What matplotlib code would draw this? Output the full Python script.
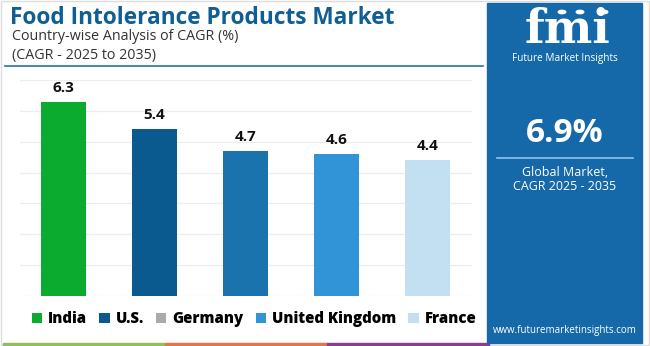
import matplotlib
matplotlib.use("Agg")
import matplotlib.pyplot as plt
from matplotlib.patches import Rectangle, Patch, Circle

# data
countries = ["India", "U.S.", "Germany", "United Kingdom", "France"]
cagr = [6.3, 5.4, 4.7, 4.6, 4.4]
bar_colors = ["#0aab2e", "#0b5a8f", "#1b73ad", "#3194d6", "#c3e0f2"]
legend_colors = ["#0aab2e", "#0b5a8f", "#aaaaaa", "#3194d6", "#c3e0f2"]
global_cagr = "6.9%"

W, H = 650, 346
fig = plt.figure(figsize=(W / 100, H / 100), dpi=100)
plt.rcParams['font.family'] = ['Open Sans', 'DejaVu Sans']

def fx(px):
    return px / W

def fy(py):
    # pixel from top -> figure fraction
    return 1 - py / H

# outer light border
fig.patches.append(Rectangle((0.001, 0.002), 0.997, 0.995, transform=fig.transFigure,
                             fill=False, edgecolor="#dddddd", linewidth=1))

# title block
fig.text(fx(10), fy(18), "Food Intolerance Products Market", fontsize=16.3,
         fontweight="bold", color="#0f5e96", va="center", ha="left")
fig.text(fx(12), fy(37), "Country-wise Analysis of CAGR (%)", fontsize=10.3,
         color="#333333", va="center", ha="left")
fig.text(fx(12), fy(56), "(CAGR - 2025 to 2035)", fontsize=10.3,
         color="#333333", va="center", ha="left")
fig.add_artist(plt.Line2D([fx(5), fx(483)], [fy(66), fy(66)], transform=fig.transFigure,
                          color="#2a6fa3", linewidth=1.2))

# bar chart
ax = fig.add_axes([fx(20), fy(296), fx(452), 216 / H])
x = list(range(len(countries)))
ax.bar(x, cagr, width=0.495, color=bar_colors, zorder=3)
for xi, v in zip(x, cagr):
    ax.annotate(f"{v}", (xi, v), xytext=(0, 5), textcoords="offset points",
                ha="center", va="bottom", fontsize=11, fontweight="bold",
                color="#111111")
ax.set_xlim(-0.478, 4.489)
ax.set_ylim(0, 7)
ax.set_yticks(range(0, 8))
ax.grid(axis="y", color="#ececec", linewidth=0.9, zorder=0)
ax.set_xticks([])
ax.tick_params(left=False, labelleft=False)
for s in ax.spines.values():
    s.set_visible(False)

# legend
handles = [Patch(facecolor=c, edgecolor="none") for c in legend_colors]
fig.legend(handles, countries, loc="center", bbox_to_anchor=(fx(254), fy(319)),
           ncol=5, frameon=False, handlelength=0.7, handleheight=0.7,
           handletextpad=0.4, columnspacing=0.8,
           prop={"weight": "heavy", "size": 10.8})

# bottom stripes
stripe_cols = ["#8dc15a", "#e8734a", "#8e3c8e"]
for i, c in enumerate(stripe_cols):
    fig.patches.append(Rectangle((fx(3 + i * 162), fy(346)), fx(162), 3 / H,
                                 transform=fig.transFigure, color=c))

# right panel
panel = "#1669a8"
fig.patches.append(Rectangle((fx(487), fy(343)), fx(155), 340 / H,
                             transform=fig.transFigure, color=panel))
fig.text(fx(568), fy(30), "fmi", fontsize=33, fontweight="bold", family="DejaVu Serif",
         color="white", ha="center", va="center")
# stripes across the logo letters
for k in range(10):
    yy = fy(17 + k * 3.1)
    fig.add_artist(plt.Line2D([fx(512), fx(624)], [yy, yy], transform=fig.transFigure,
                              color=panel, linewidth=0.6))
for cx in [562, 580, 604]:
    fig.patches.append(Circle((fx(cx), fy(12)), 4.5 / W, transform=fig.transFigure,
                              facecolor="white", edgecolor="none"))
fig.text(fx(565), fy(58), "Future Market Insights", fontsize=7.2, color="white",
         ha="center", va="center")
fig.text(fx(565), fy(133), global_cagr, fontsize=24, fontweight="bold", color="white",
         ha="center", va="center")
fig.add_artist(plt.Line2D([fx(497), fx(633)], [fy(158), fy(158)], transform=fig.transFigure,
                          color="#8fc3ea", linewidth=1.2))
fig.text(fx(565), fy(173), "Global Market,", fontsize=9, color="white",
         ha="center", va="center")
fig.text(fx(565), fy(187), "CAGR 2025 - 2035", fontsize=9, color="white",
         ha="center", va="center")
fig.text(fx(565), fy(331), "www.futuremarketinsights.com", fontsize=7, color="white",
         ha="center", va="center")

fig.savefig("out.png", dpi=100)
